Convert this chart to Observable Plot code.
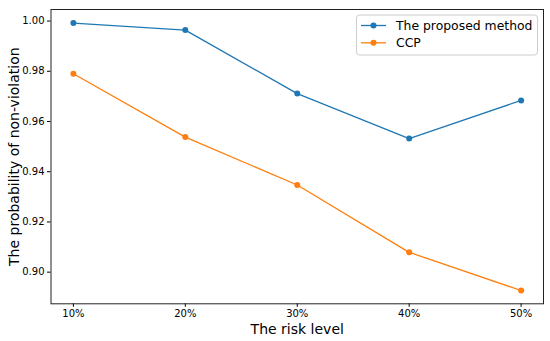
<!DOCTYPE html>
<html>
<head>
<meta charset="utf-8">
<script src="https://cdn.jsdelivr.net/npm/d3@7"></script>
<script src="https://cdn.jsdelivr.net/npm/@observablehq/plot@0.6"></script>
<style>
  html, body { margin: 0; padding: 0; background: white; }
  #chart { width: 550px; height: 341px; }
</style>
</head>
<body>
<div id="chart"></div>
<script>
const riskLevels = [10, 20, 30, 40, 50];
const proposed = [0.9992, 0.9964, 0.9711, 0.9532, 0.9684];
const ccp = [0.9790, 0.9538, 0.9347, 0.9079, 0.8927];
const seriesNames = ["The proposed method", "CCP"];
const seriesColors = ["#1f77b4", "#ff7f0e"];
const yTicks = [0.90, 0.92, 0.94, 0.96, 0.98, 1.00];

const rows = [];
riskLevels.forEach((r, i) => rows.push({risk: r, value: proposed[i], series: seriesNames[0]}));
riskLevels.forEach((r, i) => rows.push({risk: r, value: ccp[i], series: seriesNames[1]}));

const plot = Plot.plot({
  width: 550,
  height: 341,
  marginLeft: 50.5,
  marginRight: 7,
  marginTop: 9,
  marginBottom: 37.7,
  style: {fontFamily: "DejaVu Sans", fontSize: "10px", background: "white", color: "black"},
  x: {domain: [8, 52]},
  y: {domain: [0.8874, 1.0046]},
  color: {domain: seriesNames, range: seriesColors},
  marks: [
    Plot.axisX({ticks: riskLevels, tickFormat: d => d + "%", tickSize: 3.5, tickPadding: 3, label: null}),
    Plot.axisY({ticks: yTicks, tickFormat: ".2f", tickSize: 3.5, tickPadding: 3, label: null}),
    Plot.line(rows, {x: "risk", y: "value", z: "series", stroke: "series", strokeWidth: 1.3}),
    Plot.dot(rows, {x: "risk", y: "value", fill: "series", r: 3}),
    Plot.frame({stroke: "#222", strokeWidth: 1}),
    Plot.text(["The risk level"], {frameAnchor: "bottom", lineAnchor: "middle", textAnchor: "middle", dy: 26, fontSize: 14}),
    Plot.text(["The probability of non-violation"], {frameAnchor: "left", lineAnchor: "middle", textAnchor: "middle", dx: -36.5, rotate: -90, fontSize: 14})
  ]
});
document.getElementById("chart").appendChild(plot);

// legend
const svg = d3.select(plot);
const lg = svg.append("g").attr("font-family", "DejaVu Sans").attr("font-size", 12.4).attr("text-anchor", "start");
lg.append("rect").attr("x", 356.5).attr("y", 15).attr("width", 181).attr("height", 40)
  .attr("rx", 3).attr("fill", "white").attr("fill-opacity", 0.8).attr("stroke", "#ccc");
seriesNames.forEach((name, i) => {
  const cy = 25.5 + i * 17.3;
  lg.append("line").attr("x1", 361).attr("x2", 386).attr("y1", cy).attr("y2", cy)
    .attr("stroke", seriesColors[i]).attr("stroke-width", 1.3);
  lg.append("circle").attr("cx", 373.5).attr("cy", cy).attr("r", 3).attr("fill", seriesColors[i]);
  lg.append("text").attr("x", 396).attr("y", cy).attr("dy", "0.36em").attr("text-anchor", "start").attr("fill", "black").text(name);
});
</script>
</body>
</html>
